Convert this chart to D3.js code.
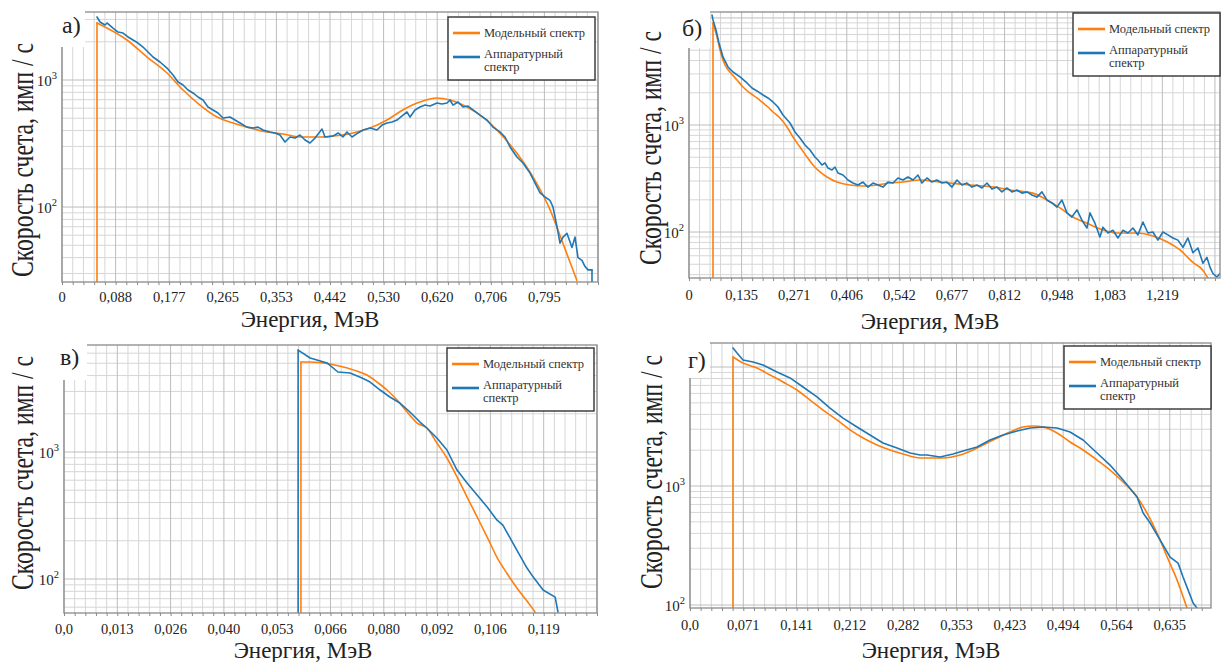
<!DOCTYPE html>
<html><head><meta charset="utf-8">
<script src="https://cdn.jsdelivr.net/npm/d3@7"></script>
<style>body{margin:0;background:#fff}svg{display:block}
svg text{font-family:"Liberation Serif","DejaVu Serif","Noto Serif","Times New Roman",serif}</style>
</head><body>
<svg id="chart" width="1222" height="662"></svg>
<script>
// ---------- DATA ----------
const legendLabels = ["Модельный спектр", ["Аппаратурный", "спектр"]];
const panelTags = ["а)", "б)", "в)", "г)"];
const xTitle = "Энергия,  МэВ";
const yTitle = "Скорость счета, имп / с";

const aTickLabels = ["0","0,088","0,177","0,265","0,353","0,442","0,530","0,620","0,706","0,795"];
const bTickLabels = ["0","0,135","0,271","0,406","0,542","0,677","0,812","0,948","1,083","1,219"];
const cTickLabels = ["0,0","0,013","0,026","0,040","0,053","0,066","0,080","0,092","0,106","0,119"];
const dTickLabels = ["0,0","0,071","0,141","0,212","0,282","0,353","0,423","0,494","0,564","0,635"];

// panel а
const aModelE = [0.0577,0.1072,0.1402,0.1732,0.1996,0.2276,0.2556,0.2820,0.3100,0.3380,0.3645,0.3925,0.4255,0.4470,0.4800,0.5080,0.5360,0.5620,0.5900,0.6180,0.6400,0.6680,0.6940,0.7220,0.7500,0.7770,0.8050,0.8260,0.8490];
const aModelV = [2815,2065,1517,1135,834,635,511,459,419,390,376,356,356,362,383,419,484,581,671,722,696,613,511,383,266,172,95,52,26.6];
const aMeasE = [0.0577,0.0627,0.0709,0.0742,0.0841,0.0924,0.1006,0.1089,0.1171,0.1253,0.1336,0.1418,0.1501,0.1616,0.1732,0.1831,0.1913,0.1996,0.2078,0.2161,0.2243,0.2326,0.2408,0.2490,0.2573,0.2655,0.2771,0.2853,0.2936,0.3051,0.3150,0.3233,0.3315,0.3430,0.3513,0.3595,0.3678,0.3760,0.3843,0.3925,0.4008,0.4090,0.4173,0.4288,0.4338,0.4470,0.4552,0.4634,0.4700,0.4783,0.4882,0.4964,0.5080,0.5195,0.5278,0.5360,0.5443,0.5525,0.5624,0.5690,0.5740,0.5822,0.5905,0.5987,0.6070,0.6185,0.6267,0.6350,0.6399,0.6449,0.6531,0.6614,0.6696,0.6779,0.6894,0.7010,0.7108,0.7224,0.7306,0.7389,0.7504,0.7603,0.7719,0.7834,0.7884,0.7966,0.8048,0.8098,0.8164,0.8213,0.8263,0.8329,0.8411,0.8461,0.8510,0.8576,0.8626,0.8675,0.8741];
const aMeasV = [3133,2864,2710,2812,2564,2386,2344,2181,2065,1955,1818,1661,1517,1386,1242,1094,964,914,834,791,735,696,613,581,550,502,511,484,459,426,419,426,404,390,383,369,325,356,349,369,337,319,349,411,356,362,383,356,390,356,383,404,419,404,442,459,467,484,530,560,511,581,613,635,624,659,647,659,696,635,671,613,624,581,530,484,426,390,356,297,248,222,185,144,129,120,113,100,70,52,58,62,48,58,40,38,34,32,32];

// panel б
const bModelE = [0.0618,0.0721,0.0798,0.0927,0.1055,0.1236,0.1390,0.1570,0.1750,0.1905,0.2033,0.2162,0.2342,0.2523,0.2677,0.2857,0.3037,0.3192,0.3372,0.3552,0.3810,0.4144,0.4479,0.4839,0.5174,0.5508,0.5946,0.6461,0.7233,0.8005,0.8263,0.8855,0.9215,0.9550,0.9884,1.0245,1.0579,1.1017,1.1531,1.1943,1.2304,1.2638,1.2973,1.3230,1.3359];
const bModelV = [8975,6637,5023,3638,3128,2635,2266,1991,1788,1607,1473,1323,1162,958,772,623,502,423,364,327,293,275,269,275,287,293,306,293,275,258,247,231,199,168,138,121,107,98,98,92,81,68,52,44,37];
const bMeasE = [0.0592,0.0618,0.0695,0.0772,0.0875,0.1004,0.1133,0.1313,0.1493,0.1622,0.1750,0.1905,0.2033,0.2162,0.2291,0.2420,0.2600,0.2728,0.2857,0.2986,0.3115,0.3243,0.3320,0.3423,0.3501,0.3578,0.3681,0.3758,0.3835,0.3964,0.4093,0.4221,0.4350,0.4479,0.4607,0.4736,0.4865,0.4994,0.5122,0.5251,0.5380,0.5508,0.5637,0.5766,0.5895,
  0.5997,0.6126,0.6255,0.6384,0.6512,0.6641,0.6770,0.6898,0.7027,0.7156,0.7284,0.7413,0.7542,0.7671,0.7799,0.7928,0.8057,0.8185,0.8314,0.8443,0.8571,0.8700,0.8829,0.8958,0.9086,0.9215,0.9344,0.9472,0.9601,0.9730,0.9858,0.9987,1.0116,1.0245,1.0322,1.0450,1.0579,1.0656,1.0785,1.0914,1.1042,1.1171,1.1300,1.1429,1.1557,1.1686,1.1815,1.1943,1.2072,1.2201,1.2329,1.2458,1.2587,1.2716,1.2844,1.2973,1.3102,1.3230,1.3333,1.3411,1.3488,1.3591,1.3668];
const bMeasV = [10670,9570,7727,5838,4322,3486,3128,2811,2471,2218,2080,1907,1788,1641,1473,1240,1044,861,757,651,584,502,471,423,442,396,380,405,356,341,306,287,275,293,263,287,275,263,293,287,320,306,327,306,341,
  287,320,293,306,287,293,263,306,275,287,263,275,258,287,252,263,237,258,237,247,231,237,222,212,237,199,187,171,199,151,138,161,129,109,151,121,90,111,98,104,88,104,98,109,94,124,98,100,84,100,94,88,84,72,88,64,71,51,58,47,41,38,41];

// panel в
const cModelE = [0.0589,0.0612,0.0661,0.0694,0.0728,0.0753,0.0778,0.0803,0.0828,0.0853,0.0878,0.0902,0.0927,0.0952,0.0977,0.1002,0.1027,0.1052,0.1076,0.1101,0.1126,0.1151,0.1171];
const cModelV = [5115,5115,4934,4670,4343,4039,3557,3077,2564,2066,1692,1545,1177,897,636,442,308,214,149,111,85,67,55];
const cMeasE = [0.0582,0.0612,0.0654,0.0681,0.0711,0.0741,0.0761,0.0786,0.0810,0.0835,0.0860,0.0885,0.0902,0.0927,0.0952,0.0977,0.1002,0.1027,0.1052,0.1076,0.1091,0.1116,0.1151,0.1166,0.1191,0.1221,0.1228];
const cMeasV = [6350,5496,5023,4266,4190,3825,3557,3077,2711,2430,2066,1722,1545,1289,1037,721,570,459,369,292,266,192,122,104,82,72,55];

// panel г
const dModelE = [0.0570,0.0702,0.0887,0.1060,0.1232,0.1417,0.1590,0.1762,0.1947,0.2119,0.2292,0.2477,0.2649,0.2821,0.3047,0.3351,0.3576,0.3802,0.4014,0.4239,0.4411,0.4543,0.4676,0.4861,0.5033,0.5206,0.5391,0.5563,0.5736,0.5921,0.6053,0.6186,0.6319,0.6451,0.6583];
const dModelV = [12140,10810,9820,8570,7480,6410,5280,4350,3590,2960,2530,2213,2008,1857,1719,1719,1822,2086,2435,2845,3130,3192,3130,2790,2345,2008,1653,1362,1081,809,593,403,253,162,94];
const dMeasE = [0.0570,0.0623,0.0702,0.0835,0.0967,0.1152,0.1325,0.1497,0.1682,0.1854,0.2027,0.2212,0.2384,0.2556,0.2742,0.2914,0.3047,0.3139,0.3312,0.3484,0.3616,0.3802,0.3974,0.4146,0.4331,0.4504,0.4676,0.4861,0.5033,0.5206,0.5391,0.5563,0.5736,0.5921,0.6001,0.6094,0.6226,0.6358,0.6464,0.6530,0.6596,0.6663,0.6716];
const dMeasV = [14450,13120,11460,11020,10400,9080,8090,6790,5600,4520,3720,3130,2685,2300,2086,1894,1822,1822,1753,1857,1969,2128,2435,2685,2900,3070,3130,3070,2845,2435,1894,1500,1123,809,593,489,352,253,225,172,134,104,94];

// ---------- LAYOUT / STYLE ----------
const ORANGE = "#ff7f0e", BLUE = "#1f77b4";
const zip = (e, v) => e.map((x, i) => [x, v[i]]);

const panels = [
  {tag:panelTags[0], l:62, r:598, t:12, b:282, xMax:0.884, yMin:25.7, yMax:3431, step:0.0884, labels:aTickLabels,
   model:zip(aModelE,aModelV), meas:zip(aMeasE,aMeasV), measStartDrop:false, measEndDrop:true,
   tickDy:20, ylab:[23,160], xlab:[310,327], legend:[448,17], box:[40,85,0,47], tagPos:[62,33]},
  {tag:panelTags[1], l:689, r:1220, t:12, b:278, xMax:1.367, yMin:37.2, yMax:11370, step:0.1354, labels:bTickLabels,
   model:zip(bModelE,bModelV), meas:zip(bMeasE,bMeasV), measStartDrop:false, measEndDrop:false,
   tickDy:22, ylab:[651,148], xlab:[930,329], legend:[1073,13], box:[664,710,0,48], tagPos:[682,36]},
  {tag:panelTags[2], l:64, r:597, t:345, b:613, xMax:0.1325, yMin:54.0, yMax:6960, step:0.01325, labels:cTickLabels,
   model:zip(cModelE,cModelV), meas:zip(cMeasE,cMeasV), measStartDrop:true, measEndDrop:false,
   tickDy:21, ylab:[23,473], xlab:[303,658], legend:[447,348], box:[40,87,333,380], tagPos:[60,365]},
  {tag:panelTags[3], l:690, r:1211, t:343, b:608, xMax:0.690, yMin:94.4, yMax:15910, step:0.0706, labels:dTickLabels,
   model:zip(dModelE,dModelV), meas:zip(dMeasE,dMeasV), measStartDrop:false, measEndDrop:false,
   tickDy:22, ylab:[652,472], xlab:[931,658], legend:[1064,346], box:[664,710,333,378], tagPos:[688,368]}
];

const svg = d3.select("#chart");
svg.append("rect").attr("width",1222).attr("height",662).attr("fill","#fff");

panels.forEach((p, pi) => {
  const g = svg.append("g");
  const x = d3.scaleLinear().domain([0, p.xMax]).range([p.l, p.r]);
  const y = d3.scaleLog().domain([p.yMin, p.yMax]).range([p.b, p.t]);

  const nMin = Math.floor(p.xMax / (p.step / 5) + 1e-6);
  const minorX = d3.range(nMin + 1).map(i => i * p.step / 5);
  const majorX = d3.range(Math.floor(p.xMax / p.step + 1e-6) + 1).map(i => i * p.step);
  const decades = [], minorY = [];
  for (let e = Math.floor(Math.log10(p.yMin)); e <= Math.ceil(Math.log10(p.yMax)); e++) {
    for (let m = 1; m <= 9; m++) {
      const v = m * Math.pow(10, e);
      if (v >= p.yMin && v <= p.yMax) (m === 1 ? decades : minorY).push(v);
    }
  }

  // grid
  const grid = g.append("g");
  grid.selectAll(".mx").data(minorX.filter((d, i) => i % 5 !== 0)).join("line")
    .attr("x1", d => x(d)).attr("x2", d => x(d)).attr("y1", p.t).attr("y2", p.b)
    .attr("stroke", "#d6d6d6").attr("stroke-width", 1);
  grid.selectAll(".my").data(minorY).join("line")
    .attr("x1", p.l).attr("x2", p.r).attr("y1", d => y(d)).attr("y2", d => y(d))
    .attr("stroke", "#d6d6d6").attr("stroke-width", 1);
  grid.selectAll(".Mx").data(majorX).join("line")
    .attr("x1", d => x(d)).attr("x2", d => x(d)).attr("y1", p.t).attr("y2", p.b)
    .attr("stroke", "#bdbdbd").attr("stroke-width", 1);
  grid.selectAll(".My").data(decades).join("line")
    .attr("x1", p.l).attr("x2", p.r).attr("y1", d => y(d)).attr("y2", d => y(d))
    .attr("stroke", "#bdbdbd").attr("stroke-width", 1);

  // clip
  const cid = "clip" + pi;
  svg.append("clipPath").attr("id", cid).append("rect")
    .attr("x", p.l).attr("y", p.t).attr("width", p.r - p.l).attr("height", p.b - p.t);
  const lines = g.append("g").attr("clip-path", `url(#${cid})`);
  const floor = y.domain()[0] * 0.5;
  const lin = d3.line().x(d => x(d[0])).y(d => y(d[1]));
  const smooth = d3.line().x(d => x(d[0])).y(d => y(d[1])).curve(d3.curveMonotoneX);
  const style = (s, c) => s.attr("fill", "none").attr("stroke", c).attr("stroke-width", 1.6)
    .attr("stroke-linejoin", "round").attr("stroke-linecap", "round");

  const m0 = p.model[0];
  style(lines.append("path").attr("d", lin([[m0[0], floor], m0])), ORANGE);
  style(lines.append("path").attr("d", smooth(p.model)), ORANGE);
  const s0 = p.meas[0], sN = p.meas[p.meas.length - 1];
  if (p.measStartDrop) style(lines.append("path").attr("d", lin([[s0[0], floor], s0])), BLUE);
  style(lines.append("path").attr("d", lin(p.meas)), BLUE);
  if (p.measEndDrop) style(lines.append("path").attr("d", lin([sN, [sN[0], floor]])), BLUE);

  // spines
  g.append("rect").attr("x", p.l).attr("y", p.t).attr("width", p.r - p.l).attr("height", p.b - p.t)
    .attr("fill", "none").attr("stroke", "#8a8a8a").attr("stroke-width", 1.3);

  // x axis
  const xa = d3.axisBottom(x).tickValues(minorX).tickSize(3).tickSizeOuter(0).tickFormat(() => "");
  const xg = g.append("g").attr("transform", `translate(0,${p.b})`).call(xa);
  xg.select(".domain").remove();
  xg.selectAll(".tick line").attr("stroke", "#8a8a8a");
  g.selectAll(".xl").data(p.labels).join("text")
    .attr("x", (d, i) => x(majorX[i])).attr("y", p.b + p.tickDy)
    .attr("text-anchor", "middle").attr("font-size", 14.5).attr("fill", "#222").text(d => d);

  // y tick labels
  const yl = g.selectAll(".yl").data(decades).join("text")
    .attr("x", p.l - 5).attr("y", d => y(d) + 6)
    .attr("text-anchor", "end").attr("font-size", 15).attr("fill", "#222");
  yl.append("tspan").text("10");
  yl.append("tspan").attr("font-size", 10.5).attr("dy", -7).text(d => Math.round(Math.log10(d)));

  // axis titles
  g.append("text").attr("transform", `translate(${p.ylab[0]},${p.ylab[1]}) rotate(-90) scale(1,1.38)`)
    .attr("text-anchor", "middle").attr("dy", "0.33em").attr("font-size", 22.5)
    .attr("textLength", 234).attr("lengthAdjust", "spacingAndGlyphs").attr("fill", "#222").text(yTitle);
  g.append("text").attr("x", p.xlab[0]).attr("y", p.xlab[1]).attr("text-anchor", "middle")
    .attr("font-size", 23).attr("fill", "#222").text(xTitle);

  // tag box
  g.append("rect").attr("x", p.box[0]).attr("y", p.box[2]).attr("width", p.box[1] - p.box[0])
    .attr("height", p.box[3] - p.box[2]).attr("fill", "#fff");
  g.append("text").attr("x", p.tagPos[0]).attr("y", p.tagPos[1])
    .attr("font-size", 24).attr("fill", "#222").text(p.tag);

  // legend
  const lg = g.append("g").attr("transform", `translate(${p.legend[0]},${p.legend[1]})`);
  lg.append("rect").attr("width", 147).attr("height", 63).attr("fill", "#fff")
    .attr("stroke", "#333").attr("stroke-width", 1.4);
  lg.append("line").attr("x1", 5).attr("x2", 32).attr("y1", 16).attr("y2", 16)
    .attr("stroke", ORANGE).attr("stroke-width", 2.6);
  lg.append("line").attr("x1", 5).attr("x2", 32).attr("y1", 40).attr("y2", 40)
    .attr("stroke", BLUE).attr("stroke-width", 2.6);
  const lt = (s, yy) => lg.append("text").attr("x", 36).attr("y", yy)
    .attr("font-size", 12.5).attr("fill", "#333").text(s);
  lt(legendLabels[0], 20);
  lt(legendLabels[1][0], 41);
  lt(legendLabels[1][1], 54);
});
</script>
</body></html>
